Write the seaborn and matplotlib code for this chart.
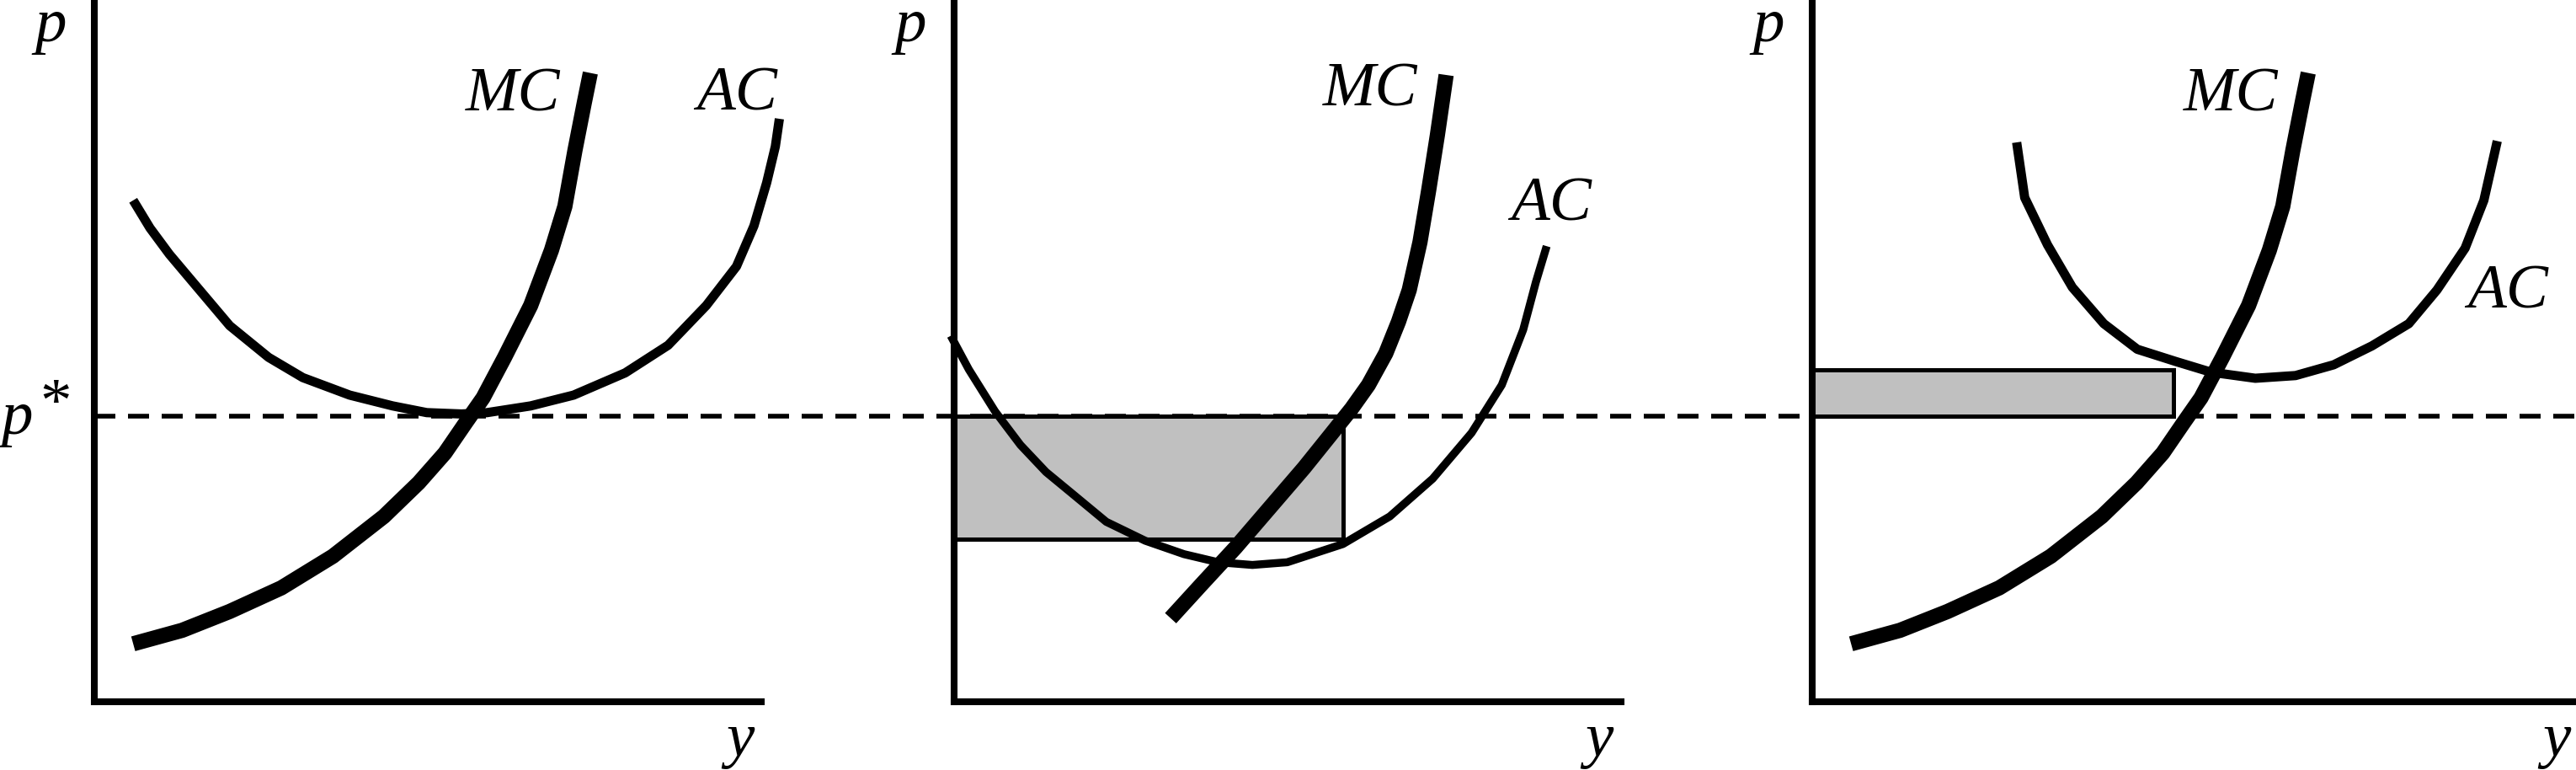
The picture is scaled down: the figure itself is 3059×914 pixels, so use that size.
import matplotlib
matplotlib.use("Agg")
import matplotlib.pyplot as plt
import seaborn as sns
from matplotlib.patches import Rectangle

# ---------------- data ----------------
p_star = 4.24

# MC curve, used in panels 1 and 3
mc_q = [0.58, 1.31, 2.02, 2.79, 3.56, 4.32, 4.84, 5.23, 5.54, 5.80, 6.12, 6.51,
        6.82, 7.02, 7.17, 7.31, 7.40]
mc_p = [0.86, 1.06, 1.34, 1.69, 2.16, 2.75, 3.25, 3.69, 4.14, 4.51, 5.11, 5.88,
        6.70, 7.35, 8.18, 8.89, 9.33]

# AC curve, panel 1
ac1_q = [0.58, 0.83, 1.12, 1.51, 2.02, 2.60, 3.11, 3.81, 4.45, 4.96, 5.48, 5.86,
         6.51, 7.15, 7.92, 8.56, 9.13, 9.58, 9.84, 10.03, 10.16, 10.22]
ac1_p = [7.44, 7.03, 6.64, 6.18, 5.58, 5.11, 4.81, 4.55, 4.39, 4.29, 4.27, 4.29,
         4.39, 4.55, 4.88, 5.29, 5.88, 6.46, 7.06, 7.70, 8.24, 8.65]

# MC and AC curves, panel 2
mc2_q = [3.23, 3.68, 4.20, 4.71, 5.22, 5.60, 5.93, 6.18, 6.44, 6.63, 6.79, 6.95,
         7.08, 7.21, 7.34]
mc2_p = [1.24, 1.73, 2.29, 2.88, 3.47, 3.94, 4.35, 4.70, 5.17, 5.64, 6.11, 6.82,
         7.59, 8.41, 9.30]
ac2_q = [-0.05, 0.22, 0.61, 0.99, 1.37, 1.76, 2.27, 2.85, 3.43, 3.94, 4.45, 4.97,
         5.80, 6.50, 7.14, 7.72, 8.17, 8.49, 8.68, 8.84]
ac2_p = [5.43, 4.93, 4.31, 3.81, 3.41, 3.09, 2.67, 2.39, 2.19, 2.07, 2.03, 2.07,
         2.34, 2.75, 3.31, 3.99, 4.70, 5.52, 6.23, 6.76]

# AC curve, panel 3
ac3_q = [3.05, 3.17, 3.51, 3.88, 4.35, 4.85, 5.42, 5.95, 6.61, 7.21, 7.78, 8.35,
         8.90, 9.32, 9.74, 10.02, 10.22]
ac3_p = [8.30, 7.48, 6.78, 6.15, 5.61, 5.23, 5.05, 4.89, 4.80, 4.84, 5.00, 5.28,
         5.61, 6.11, 6.73, 7.44, 8.32]

# shaded rectangles: (output, other price level)
rect2_q, rect2_p = 5.81, 2.41   # loss rectangle, below p*
rect3_q, rect3_p = 5.39, 4.93   # profit rectangle, above p*

# ---------------- layout ----------------
W, H = 3059, 914
PX_X, PX_Y = 79.6, 80.0
AXIS_Y = 833            # pixel row of the horizontal axes
lefts = [112, 1133, 2152]
widths = [9.95, 9.95, (W - 2152) / PX_X]

sns.set_style("white")
plt.rcParams["font.family"] = ["Liberation Serif", "DejaVu Serif"]

fig = plt.figure(figsize=(W / 100, H / 100), dpi=100)
axes = []
for lp, wu in zip(lefts, widths):
    ax = fig.add_axes([lp / W, (H - AXIS_Y) / H, wu * PX_X / W, AXIS_Y / H])
    ax.set_xlim(0, wu)
    ax.set_ylim(0, AXIS_Y / PX_Y)
    ax.patch.set_alpha(0)
    for s in ["top", "right"]:
        ax.spines[s].set_visible(False)
    for s in ["left", "bottom"]:
        ax.spines[s].set_linewidth(5.8)
        ax.spines[s].set_color("black")
        ax.spines[s].set_zorder(3)
    ax.set_xticks([])
    ax.set_yticks([])
    ax.set_xlabel("")
    ax.set_ylabel("")
    axes.append(ax)

ax1, ax2, ax3 = axes

MC_LW, AC_LW = 13.0, 7.9
line_kw = dict(color="black", sort=False, estimator=None, clip_on=False,
               solid_capstyle="butt", legend=False)

# dashed p* line across all panels
ax1.axhline(p_star, xmin=0, xmax=(W - lefts[0]) / (widths[0] * PX_X),
            color="black", lw=4.0, dashes=(4.5, 2.7), clip_on=False, zorder=1)

# panel 1
sns.lineplot(x=ac1_q, y=ac1_p, ax=ax1, linewidth=AC_LW, **line_kw)
sns.lineplot(x=mc_q, y=mc_p, ax=ax1, linewidth=MC_LW, **line_kw)

# panel 2
ax2.add_patch(Rectangle((0, rect2_p), rect2_q, p_star - rect2_p,
                        facecolor="#c0c0c0", edgecolor="black", linewidth=3.6,
                        zorder=1))
sns.lineplot(x=ac2_q, y=ac2_p, ax=ax2, linewidth=6.8, **line_kw)
sns.lineplot(x=mc2_q, y=mc2_p, ax=ax2, linewidth=MC_LW, **line_kw)

# panel 3
ax3.add_patch(Rectangle((0, p_star), rect3_q, rect3_p - p_star,
                        facecolor="#c0c0c0", edgecolor="black", linewidth=3.6,
                        zorder=1))
sns.lineplot(x=ac3_q, y=ac3_p, ax=ax3, linewidth=AC_LW, **line_kw)
sns.lineplot(x=mc_q, y=mc_p, ax=ax3, linewidth=MC_LW, **line_kw)

# ---------------- labels ----------------
tkw = dict(fontsize=54, style="italic", family=["Liberation Serif"], color="black")

ax1.text(6.95, 8.77, "MC", ha="right", va="baseline", **tkw)
ax1.text(10.19, 8.78, "AC", ha="right", va="baseline", **tkw)
ax2.text(6.92, 8.85, "MC", ha="right", va="baseline", **tkw)
ax2.text(9.515, 7.14, "AC", ha="right", va="baseline", **tkw)
ax3.text(6.95, 8.77, "MC", ha="right", va="baseline", **tkw)
ax3.text(10.976, 5.85, "AC", ha="right", va="baseline", **tkw)

for ax, yx in zip(axes, [9.63, 9.62, 11.1]):
    ax.text(-0.653, 9.8, "p", ha="center", va="baseline", **tkw)
    ax.text(yx, -0.8, "y", ha="center", va="baseline", **tkw)

ax1.text(-1.15, 3.975, "p", ha="center", va="baseline", **tkw)
ax1.text(-0.572, 4.39, "*", ha="center", va="center", fontsize=54,
         family=["Liberation Serif"], color="black")

fig.savefig("out.png", dpi=100)
